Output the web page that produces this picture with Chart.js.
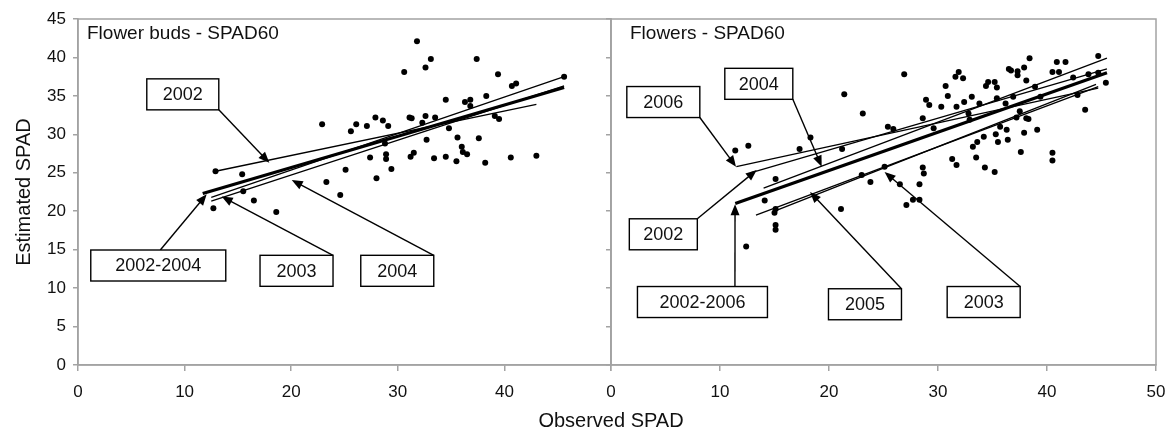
<!DOCTYPE html>
<html>
<head>
<meta charset="utf-8">
<script src="https://cdn.jsdelivr.net/npm/chart.js@4.4.0/dist/chart.umd.min.js"></script>
<style>
  body { margin: 0; background: #fff; width: 1171px; height: 432px; overflow: hidden; position: relative;
         font-family: "Liberation Sans", Arial, sans-serif; }
  #budsWrap { position: absolute; left: 0; top: 0; width: 620px; height: 432px; }
  #flowWrap { position: absolute; left: 600px; top: 0; width: 571px; height: 432px; }
  #xTitle { position: absolute; left: 461px; width: 300px; top: 409px; text-align: center;
            font-size: 20px; color: #111; }
</style>
</head>
<body>
<div id="budsWrap"><canvas id="budsChart" width="620" height="432"></canvas></div>
<div id="flowWrap"><canvas id="flowChart" width="571" height="432"></canvas></div>
<div id="xTitle">Observed SPAD</div>
<script>
// ===== DATA: FLOWER BUDS (left panel) =====
var budsObserved = [22.9, 25.6, 26.1, 27.1, 12.9, 15.4, 25.1, 23.3, 24.6, 15.5,
    31.8, 33.1, 32.6, 30.6, 37.4, 39.4, 40.7, 41.1, 45.6, 34.5,
    36.3, 36.8, 36.8, 38.3, 39.1, 39.5, 27.9, 28.6, 29.1, 31.1,
    31.3, 32.6, 33.5, 32.3, 34.8, 32.7, 35.6, 37.6, 36.0, 36.1,
    36.5, 28.8, 28.9, 28.9, 27.4, 31.5, 31.2, 33.4, 34.5, 35.5,
    38.2, 40.6, 43.0, 29.4, 28.0, 12.7, 16.5, 18.6];
var budsEstimated = [31.3, 30.4, 31.3, 31.1, 25.2, 24.8, 25.4, 23.8, 22.1, 22.6,
    42.1, 39.8, 38.7, 38.1, 39.8, 37.8, 36.3, 36.6, 37.5, 34.5,
    34.2, 34.5, 33.7, 35.0, 32.4, 32.0, 32.2, 31.8, 31.1, 32.2,
    32.1, 32.4, 32.2, 31.5, 30.8, 29.3, 29.6, 29.5, 28.4, 27.7,
    27.4, 28.8, 27.4, 26.8, 27.0, 27.6, 27.1, 26.9, 27.1, 26.5,
    26.3, 27.0, 27.2, 25.5, 24.3, 20.4, 21.4, 19.9];

// regression lines: start/end in observed (x) and estimated (y)
var budsFitNames = ['2002', '2003', '2004', '2002-2004'];
var budsFitX0 = [12.9, 12.5, 12.5, 11.7];
var budsFitX1 = [43.0, 45.6, 45.6, 45.6];
var budsFitY0 = [25.2, 21.8, 21.3, 22.3];
var budsFitY1 = [33.9, 37.5, 36.3, 36.1];

// ===== DATA: FLOWERS (right panel) =====
var flowObserved = [21.4, 23.1, 25.4, 25.9, 11.4, 12.6, 17.3, 18.3, 21.2, 15.1,
    23.0, 23.8, 25.1, 14.1, 15.1, 15.0, 15.1, 15.1, 12.4, 21.1,
    26.9, 31.9, 31.6, 32.3, 38.4, 36.5, 36.7, 37.3, 37.9, 37.3,
    40.9, 41.7, 44.7, 40.5, 41.1, 42.4, 43.8, 44.7, 45.4, 30.7,
    30.9, 34.4, 35.2, 35.4, 34.6, 38.1, 38.9, 28.9, 29.2, 30.3,
    31.7, 32.4, 33.1, 33.8, 35.4, 36.2, 36.9, 28.6, 32.8, 32.9,
    37.2, 38.1, 38.3, 37.5, 42.8, 43.5, 39.4, 35.7, 36.3, 37.9,
    39.1, 35.3, 35.5, 36.4, 34.2, 33.6, 33.2, 33.5, 37.6, 40.5,
    40.5, 31.3, 31.7, 34.3, 35.2, 28.6, 28.7, 26.5, 28.3, 27.1,
    27.7, 28.3, 29.6];
var flowEstimated = [35.2, 32.7, 31.0, 30.7, 27.9, 28.5, 28.1, 29.6, 28.1, 24.2,
    24.7, 23.8, 25.8, 21.4, 20.3, 19.8, 18.2, 17.6, 15.4, 20.3,
    37.8, 38.1, 37.5, 37.3, 39.9, 38.5, 38.3, 38.2, 38.7, 37.7,
    39.4, 39.4, 40.2, 38.1, 38.1, 37.4, 37.8, 38.0, 36.7, 36.3,
    35.0, 36.3, 36.8, 36.1, 36.8, 37.0, 36.2, 34.5, 33.8, 33.6,
    33.6, 34.2, 34.9, 34.0, 34.7, 34.0, 34.9, 32.1, 32.7, 31.9,
    32.2, 32.1, 32.0, 33.0, 35.1, 33.2, 34.9, 31.0, 30.6, 30.2,
    30.6, 30.0, 29.0, 29.3, 29.7, 29.0, 28.4, 27.0, 27.7, 27.6,
    26.6, 26.8, 26.0, 25.7, 25.1, 25.7, 24.9, 23.5, 23.5, 20.8,
    21.5, 21.5, 30.8];

var flowFitNames = ['2002', '2003', '2004', '2005', '2006', '2002-2006'];
var flowFitX0 = [12.8, 15.0, 14.0, 13.3, 11.5, 11.4];
var flowFitX1 = [45.5, 44.5, 45.5, 44.7, 44.7, 45.5];
var flowFitY0 = [25.0, 20.0, 23.0, 19.5, 25.8, 21.0];
var flowFitY1 = [38.5, 36.5, 39.9, 36.2, 36.0, 38.0];

// ===== CALLOUT BOXES (box centre and arrow tip in data units) =====
var budsNotes = [
    { text: '2002', x: 9.83, y: 35.2, w: 72, tipX: 17.95, tipY: 26.3, from: [1, 1] },
    { text: '2002-2004', x: 7.53, y: 12.94, w: 135, tipX: 12.07, tipY: 22.2, from: [0.03, -1] },
    { text: '2003', x: 20.5, y: 12.25, w: 73, tipX: 13.48, tipY: 21.9, from: [1, -1] },
    { text: '2004', x: 29.95, y: 12.25, w: 73, tipX: 20.05, tipY: 24.06, from: [1, -1] }
];
var flowNotes = [
    { text: '2006', x: 4.8, y: 34.2, w: 73, tipX: 11.47, tipY: 25.8, from: [1, 1] },
    { text: '2004', x: 13.56, y: 36.57, w: 68, tipX: 19.33, tipY: 25.8, from: [1, 1] },
    { text: '2002', x: 4.8, y: 17.0, w: 68, tipX: 13.37, tipY: 25.36, from: [1, -1] },
    { text: '2002-2006', x: 8.39, y: 8.19, w: 130, tipX: 11.38, tipY: 20.9, from: [0.5, -1] },
    { text: '2005', x: 23.3, y: 7.9, w: 73, tipX: 18.26, tipY: 22.5, from: [1, -1] },
    { text: '2003', x: 34.19, y: 8.19, w: 73, tipX: 25.1, tipY: 25.1, from: [1, -1] }
];

var AXIS_GREY = '#a3a3a3';
var TEXT = '#111';
var FONT = '"Liberation Sans", Arial, sans-serif';
Chart.defaults.font.family = FONT;

// ===== HELPERS =====
function toPoints(xs, ys) {
    var pts = [];
    for (var i = 0; i < xs.length; i++) {
        pts.push({ x: xs[i], y: ys[i] });
    }
    return pts;
}

function buildDatasets(obs, est, names, x0, x1, y0, y1) {
    var sets = [];
    for (var i = 0; i < names.length; i++) {
        var pooled = names[i].indexOf('-') > 0;
        sets.push({
            type: 'line',
            label: names[i],
            data: [{ x: x0[i], y: y0[i] }, { x: x1[i], y: y1[i] }],
            borderColor: '#000',
            borderWidth: pooled ? 3.2 : 1.3,
            pointRadius: 0,
            fill: false
        });
    }
    sets.push({
        type: 'scatter',
        label: 'obs',
        data: toPoints(obs, est),
        backgroundColor: '#000',
        borderColor: '#000',
        pointRadius: 3,
        borderWidth: 0
    });
    return sets;
}

function drawArrow(ctx, x0, y0, x1, y1) {
    var ang = Math.atan2(y1 - y0, x1 - x0);
    var head = 11, half = 4.5;
    ctx.beginPath();
    ctx.moveTo(x0, y0);
    ctx.lineTo(x1 - Math.cos(ang) * head * 0.7, y1 - Math.sin(ang) * head * 0.7);
    ctx.stroke();
    ctx.beginPath();
    ctx.moveTo(x1, y1);
    ctx.lineTo(x1 - head * Math.cos(ang) + half * Math.sin(ang), y1 - head * Math.sin(ang) - half * Math.cos(ang));
    ctx.lineTo(x1 - head * Math.cos(ang) - half * Math.sin(ang), y1 - head * Math.sin(ang) + half * Math.cos(ang));
    ctx.closePath();
    ctx.fill();
}

// draws frame, panel title and the callout boxes
function panelPlugin(title, titleDX, notes) {
    return {
        id: 'panelDecor',
        afterDatasetsDraw: function(chart) {
            var ctx = chart.ctx;
            var xs = chart.scales.x, ys = chart.scales.y;
            ctx.save();
            ctx.strokeStyle = '#000';
            ctx.fillStyle = '#000';
            ctx.lineWidth = 1.4;
            for (var i = 0; i < notes.length; i++) {
                var n = notes[i];
                var cx = xs.getPixelForValue(n.x), cy = ys.getPixelForValue(n.y);
                var hw = n.w / 2, hh = 15.5;
                var sx = cx + n.from[0] * hw, sy = cy + n.from[1] * hh;
                drawArrow(ctx, sx, sy, xs.getPixelForValue(n.tipX), ys.getPixelForValue(n.tipY));
                ctx.fillStyle = '#fff';
                ctx.fillRect(cx - hw, cy - hh, n.w, hh * 2);
                ctx.strokeRect(cx - hw, cy - hh, n.w, hh * 2);
                ctx.fillStyle = TEXT;
                ctx.font = '18px ' + FONT;
                ctx.textAlign = 'center';
                ctx.textBaseline = 'middle';
                ctx.fillText(n.text, cx, cy + 1);
                ctx.fillStyle = '#000';
            }
            ctx.restore();
        },
        afterDraw: function(chart) {
            var ctx = chart.ctx, a = chart.chartArea;
            ctx.save();
            ctx.strokeStyle = AXIS_GREY;
            ctx.lineWidth = 1.5;
            ctx.strokeRect(a.left, a.top, a.right - a.left, a.bottom - a.top);
            ctx.fillStyle = TEXT;
            ctx.font = '19px ' + FONT;
            ctx.textAlign = 'left';
            ctx.textBaseline = 'middle';
            ctx.fillText(title, a.left + titleDX, a.top + 15);
            ctx.restore();
        }
    };
}

function makeChart(canvasId, datasets, opts) {
    var ctx = document.getElementById(canvasId).getContext('2d');
    return new Chart(ctx, {
        type: 'scatter',
        data: { datasets: datasets },
        options: {
            responsive: false,
            animation: false,
            devicePixelRatio: 1,
            layout: { padding: { top: 19, right: opts.padRight, left: 0, bottom: 0 } },
            plugins: { legend: { display: false }, tooltip: { enabled: false } },
            scales: {
                x: {
                    type: 'linear', min: 0, max: 50,
                    ticks: {
                        stepSize: 10, color: TEXT, font: { size: 17 }, padding: 11, maxRotation: 0,
                        callback: function(value) {
                            if (opts.hideLast && value === 50) return '';
                            return value;
                        }
                    },
                    grid: { drawOnChartArea: false, color: AXIS_GREY, lineWidth: 1.5, tickLength: 6 },
                    border: { color: AXIS_GREY, width: 1.5 },
                    afterFit: function(s) {
                        // keep both panels' plot areas fixed, labels may overhang
                        s.height = 67;
                        s.paddingLeft = 0;
                        s.paddingRight = 0;
                    }
                },
                y: {
                    type: 'linear', min: 0, max: 45,
                    ticks: { stepSize: 5, color: TEXT, font: { size: 17 }, padding: 7, display: opts.yLabels },
                    grid: { drawOnChartArea: false, color: AXIS_GREY, lineWidth: 1.5, tickLength: 5 },
                    border: { color: AXIS_GREY, width: 1.5 },
                    title: {
                        display: opts.yLabels, text: 'Estimated SPAD', color: TEXT,
                        font: { size: 20 }, padding: { top: 12, bottom: 0 }
                    },
                    afterFit: function(s) { s.width = opts.yWidth; }
                }
            }
        },
        plugins: [panelPlugin(opts.title, opts.titleDX, opts.notes)]
    });
}

// ===== INITIALIZE =====
window.budsChart = makeChart('budsChart',
    buildDatasets(budsObserved, budsEstimated, budsFitNames, budsFitX0, budsFitX1, budsFitY0, budsFitY1),
    { padRight: 9, hideLast: true, yLabels: true, yWidth: 78, title: 'Flower buds - SPAD60', titleDX: 9, notes: budsNotes });

window.flowChart = makeChart('flowChart',
    buildDatasets(flowObserved, flowEstimated, flowFitNames, flowFitX0, flowFitX1, flowFitY0, flowFitY1),
    { padRight: 15, hideLast: false, yLabels: false, yWidth: 11, title: 'Flowers - SPAD60', titleDX: 19, notes: flowNotes });
</script>
</body>
</html>
